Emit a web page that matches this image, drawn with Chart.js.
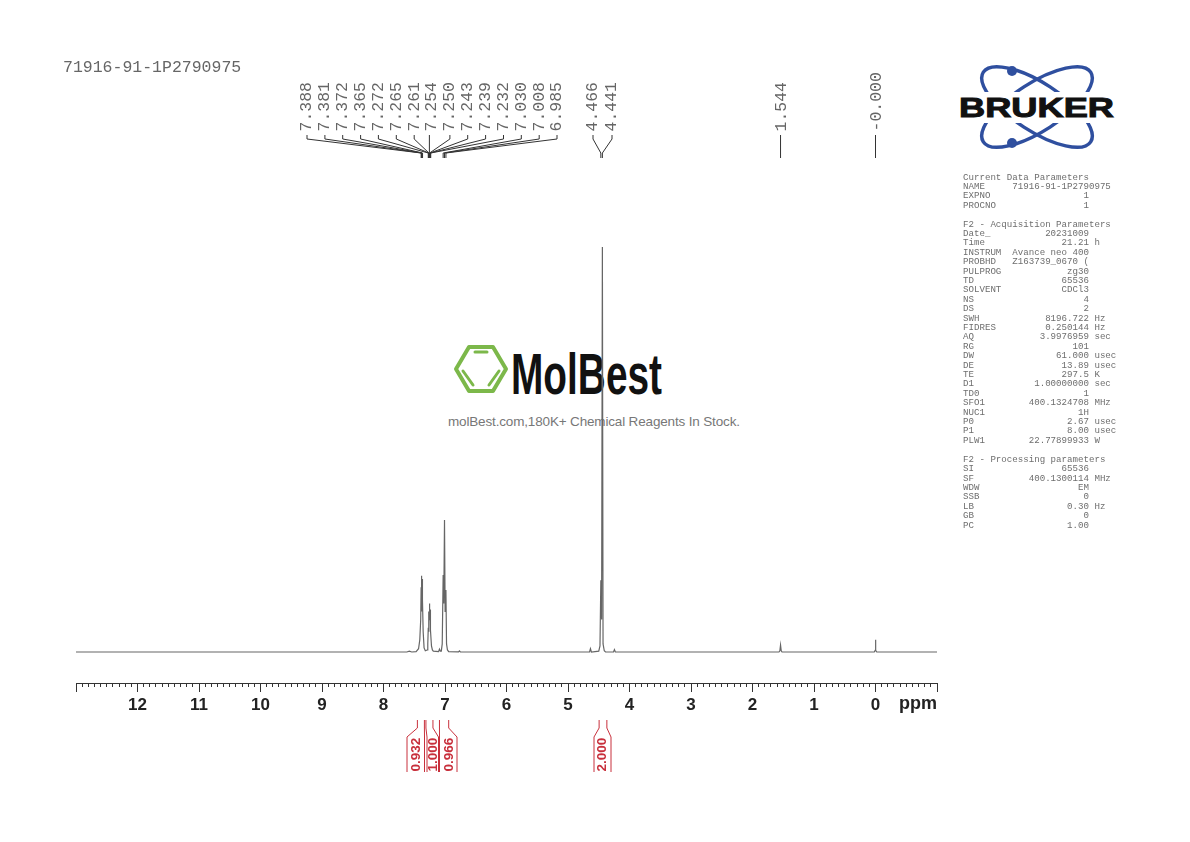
<!DOCTYPE html>
<html>
<head>
<meta charset="utf-8">
<title>71916-91-1P2790975</title>
<script src="https://cdn.jsdelivr.net/npm/chart.js@4/dist/chart.umd.js"></script>
<style>
  html, body { margin: 0; padding: 0; background: #fff; }
  #page { position: relative; width: 1190px; height: 842px; overflow: hidden; }
  #spectrum { position: absolute; left: 0; top: 0; z-index: 2; }
  .logo { position: absolute; left: 0; top: 0; z-index: 1; }
  #sampleName {
    position: absolute; left: 63px; top: 58px; z-index: 3;
    font: 16.5px/20px "Liberation Mono", monospace; color: #666; white-space: pre;
  }
  #params {
    position: absolute; left: 963px; top: 172.5px; margin: 0; z-index: 3;
    font: 9.13px/9.41px "Liberation Mono", monospace; color: #6e6e6e;
  }
</style>
</head>
<body>
<div id="page">
  <svg class="logo" width="1190" height="842" xmlns="http://www.w3.org/2000/svg">
    <!-- MolBest watermark -->
    <g fill="none" stroke="#7cb84a" stroke-linecap="round" stroke-linejoin="round">
      <path d="M456 369 L469 347 H493 L506 369 L493 391 H469 Z" stroke-width="4"/>
      <path d="M475 352 H487 M463 371 L473 385 M489 385 L499 371" stroke-width="3"/>
    </g>
    <text x="511" y="394" font-family="Liberation Sans" font-weight="bold" font-size="58" fill="#111"
          textLength="151" lengthAdjust="spacingAndGlyphs">MolBest</text>
    <text x="448" y="426" font-family="Liberation Sans" font-size="13.5" fill="#777"
          textLength="292" lengthAdjust="spacing">molBest.com,180K+ Chemical Reagents In Stock.</text>
    <!-- Bruker logo -->
    <g fill="none" stroke="#2f4f9f" stroke-width="3.5">
      <ellipse cx="1037" cy="107" rx="64" ry="24" transform="rotate(33 1037 107)"/>
      <ellipse cx="1037" cy="107" rx="64" ry="24" transform="rotate(-33 1037 107)"/>
    </g>
    <rect x="955" y="92" width="165" height="31" fill="#fff"/>
    <circle cx="1012" cy="71" r="5" fill="#2f4f9f"/>
    <circle cx="1012" cy="143" r="5" fill="#2f4f9f"/>
    <text x="959" y="117" font-family="Liberation Sans" font-weight="bold" font-size="28" fill="#111"
          stroke="#111" stroke-width="1" textLength="155" lengthAdjust="spacingAndGlyphs">BRUKER</text>
  </svg>
  <canvas id="spectrum" width="1190" height="842"></canvas>
  <div id="sampleName">71916-91-1P2790975</div>
<pre id="params">Current Data Parameters
NAME     71916-91-1P2790975
EXPNO                 1
PROCNO                1

F2 - Acquisition Parameters
Date_          20231009
Time              21.21 h
INSTRUM  Avance neo 400
PROBHD   Z163739_0670 (
PULPROG            zg30
TD                65536
SOLVENT           CDCl3
NS                    4
DS                    2
SWH            8196.722 Hz
FIDRES         0.250144 Hz
AQ            3.9976959 sec
RG                  101
DW               61.000 usec
DE                13.89 usec
TE                297.5 K
D1           1.00000000 sec
TD0                   1
SFO1        400.1324708 MHz
NUC1                 1H
P0                 2.67 usec
P1                 8.00 usec
PLW1        22.77899933 W

F2 - Processing parameters
SI                65536
SF          400.1300114 MHz
WDW                  EM
SSB                   0
LB                 0.30 Hz
GB                    0
PC                 1.00</pre>
</div>

<script>
// Spectrum trace (ppm, intensity with tallest peak = 100)
const shiftPpm = [
  13, 7.62, 7.58, 7.54, 7.47, 7.43, 7.41, 7.395, 7.388, 7.3845, 7.381, 7.3765, 7.372, 7.3685, 7.365, 7.355, 7.34, 7.32,
  7.29, 7.28, 7.272, 7.268, 7.265, 7.263, 7.261, 7.2575, 7.254, 7.252, 7.25, 7.2465, 7.243, 7.241, 7.239, 7.235, 7.232, 7.22, 7.205, 7.19,
  7.105, 7.09, 7.075, 7.06, 7.045, 7.03, 7.02, 7.008, 6.998, 6.985, 6.975, 6.96, 6.94,
  6.78, 6.765, 6.75,
  4.65, 4.635, 4.62, 4.5, 4.48, 4.466, 4.4535, 4.441, 4.43, 4.41, 4.39, 4.26, 4.245, 4.23,
  1.57, 1.555, 1.544, 1.533, 1.52,
  0.02, 0.005, 0, -0.005, -0.02, -1
];
const intensity = [
  0, 0, 0.2, 0, 0.1, 0.8, 3, 8, 16, 10, 18.8, 11, 18, 10, 13, 5, 1, 0.3,
  0.5, 2, 6, 5, 8, 6, 10, 8, 12, 11, 12, 8.5, 10.5, 7, 8, 5, 5.5, 1.5, 0.5, 0.2,
  0.1, 0.7, 0.2, 0.2, 2, 19, 12, 32.6, 10, 15.3, 2, 0.5, 0.1,
  0.05, 0.3, 0.05,
  0, 0.8, 0, 0.2, 1.5, 17.7, 8, 100, 2, 0.3, 0, 0, 0.6, 0,
  0, 0.3, 1.7, 0.3, 0,
  0, 0.4, 3, 0.4, 0, 0
];

const peakLabels = [
  "7.388", "7.381", "7.372", "7.365", "7.272", "7.265", "7.261", "7.254", "7.250",
  "7.243", "7.239", "7.232", "7.030", "7.008", "6.985", "4.466", "4.441", "1.544", "-0.000"
];

const integralLabels = ["0.932", "1.000", "0.966", "2.000"];
const integralStart = [7.449, 7.31, 7.09, 4.494];
const integralEnd = [7.335, 7.196, 6.94, 4.368];

const majorStep = 1;
const minorStep = 0.1;

// Layout of the annotation columns, in canvas pixels
const labelSlots = [
  307, 324.9, 342.7, 360.6, 378.4, 396.3, 414.2, 432, 449.9, 467.7, 485.6, 503.5, 521.3, 539.2, 557,
  593, 612, 782, 877
];
const integralLabelX = [416, 433, 449, 602];
const integralOuter = [[407, 424.5], [427, 438.5], [439.5, 457], [594, 611]];

const axisTop = 683;

const annotations = {
  id: "annotations",
  afterDraw(chart) {
    const ctx = chart.ctx;
    const xScale = chart.scales.x;
    ctx.save();

    // peak picking labels and their leader lines
    ctx.strokeStyle = "#333";
    ctx.lineWidth = 1;
    peakLabels.forEach(function (label, i) {
      const slot = labelSlots[i];
      const foot = xScale.getPixelForValue(Math.abs(parseFloat(label)));
      const top = Math.abs(slot - foot) < 3 ? foot : slot;
      ctx.beginPath();
      ctx.moveTo(top, 135);
      ctx.lineTo(top, 139);
      ctx.lineTo(foot, 153);
      ctx.lineTo(foot, 158);
      ctx.stroke();

      ctx.save();
      ctx.translate(slot, 131.5);
      ctx.rotate(-Math.PI / 2);
      ctx.font = "16.5px 'Liberation Mono'";
      ctx.fillStyle = "#666";
      ctx.textAlign = "left";
      ctx.textBaseline = "middle";
      ctx.fillText(label, 0, 0);
      ctx.restore();
    });

    // integral brackets
    ctx.strokeStyle = "#c8303c";
    integralLabels.forEach(function (label, i) {
      const left = xScale.getPixelForValue(integralStart[i]);
      const right = xScale.getPixelForValue(integralEnd[i]);
      ctx.beginPath();
      ctx.moveTo(left, 720);
      ctx.lineTo(left, 728);
      ctx.lineTo(integralOuter[i][0], 737);
      ctx.lineTo(integralOuter[i][0], 772);
      ctx.moveTo(right, 720);
      ctx.lineTo(right, 728);
      ctx.lineTo(integralOuter[i][1], 737);
      ctx.lineTo(integralOuter[i][1], 772);
      ctx.stroke();

      ctx.save();
      ctx.translate(integralLabelX[i], 771.5);
      ctx.rotate(-Math.PI / 2);
      ctx.font = "bold 13.5px 'Liberation Sans'";
      ctx.fillStyle = "#c8303c";
      ctx.textAlign = "left";
      ctx.textBaseline = "middle";
      ctx.fillText(label, 0, 0);
      ctx.restore();
    });

    // unit at the end of the axis
    ctx.font = "bold 18px 'Liberation Sans'";
    ctx.fillStyle = "#222";
    ctx.textAlign = "right";
    ctx.textBaseline = "middle";
    ctx.fillText("ppm", 937, 704);
    ctx.restore();
  }
};

const ctx = document.getElementById("spectrum").getContext("2d");
const myChart = new Chart(ctx, {
  type: "line",
  data: {
    datasets: [{
      data: shiftPpm.map((ppm, i) => ({ x: ppm, y: intensity[i] })),
      borderColor: "#666",
      borderWidth: 1.2,
      pointRadius: 0,
      tension: 0,
      fill: false,
    }],
  },
  plugins: [annotations],
  options: {
    responsive: false,
    animation: false,
    normalized: true,
    layout: { padding: { left: 76, right: 253, top: 226.75, bottom: 0 } },
    plugins: { legend: { display: false }, tooltip: { enabled: false } },
    scales: {
      y: { display: false, min: -7.654, max: 105 },
      x: {
        type: "linear",
        reverse: true,
        min: -1,
        max: 13,
        weight: 1,
        afterFit(scale) { scale.height = 842 - axisTop; },
        border: { display: true, color: "#333", width: 1 },
        grid: { drawOnChartArea: false, tickLength: 9, tickColor: "#333", tickWidth: 1 },
        ticks: {
          stepSize: majorStep,
          autoSkip: false,
          maxRotation: 0,
          padding: 3,
          color: "#222",
          font: { family: "Liberation Sans", size: 17, weight: "bold" },
          callback: (v) => (v === 13 || v === -1 ? "" : String(v)),
        },
      },
      xMinor: {
        axis: "x",
        type: "linear",
        position: "bottom",
        reverse: true,
        min: -1,
        max: 13,
        weight: 0,
        afterFit(scale) { scale.height = 0; },
        border: { display: false },
        grid: { drawOnChartArea: false, tickLength: 4, tickColor: "#333", tickWidth: 1 },
        ticks: { stepSize: minorStep, autoSkip: false, maxRotation: 0, display: false },
      },
    },
  },
});
</script>
</body>
</html>
